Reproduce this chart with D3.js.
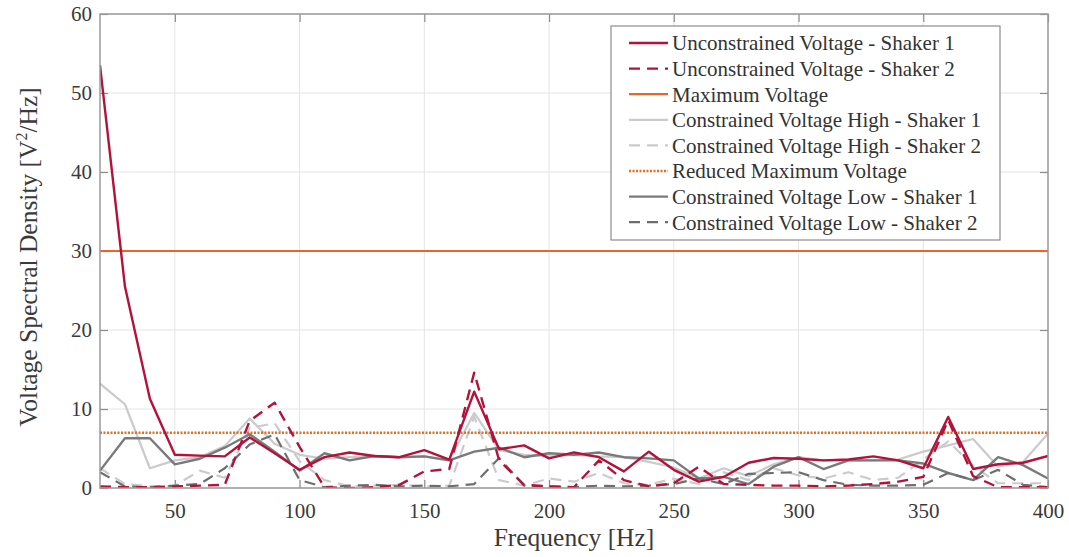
<!DOCTYPE html>
<html>
<head>
<meta charset="utf-8">
<script src="https://cdn.jsdelivr.net/npm/d3@7"></script>
<style>
  html, body { margin: 0; padding: 0; background: #fff; }
  svg { display: block; }
  text { font-family: "Liberation Serif", "DejaVu Serif", serif; }
</style>
</head>
<body>
<svg id="chart" width="1069" height="557"></svg>
<script>
// Frequency bins [Hz]
const freq = [20, 30, 40, 50, 60, 70, 80, 90, 100, 110, 120, 130, 140, 150, 160, 170, 180, 190, 200,
  210, 220, 230, 240, 250, 260, 270, 280, 290, 300, 310, 320, 330, 340, 350, 360, 370, 380, 390, 400];

// Voltage spectral density [V^2/Hz]
const unconstrainedS1 = [53.5, 25.5, 11.3, 4.2, 4.1, 4.0, 6.4, 4.4, 2.3, 3.9, 4.5, 4.05, 3.9, 4.8, 3.6, 12.2, 4.9, 5.4, 3.75,
  4.5, 3.9, 2.1, 4.6, 2.3, 0.8, 1.4, 3.2, 3.8, 3.7, 3.5, 3.6, 4.0, 3.5, 2.5, 9.0, 2.4, 3.0, 3.2, 4.05];
const unconstrainedS2 = [0.2, 0.1, 0.1, 0.2, 0.3, 0.4, 8.5, 10.8, 5.2, 0.1, 0.0, 0.1, 0.4, 2.1, 2.4, 14.6, 3.5, 0.4, 0.2,
  0.1, 3.5, 1.0, 0.2, 0.6, 2.7, 0.5, 0.4, 0.3, 0.3, 0.2, 0.3, 0.5, 0.8, 1.4, 8.6, 1.5, 0.1, 0.1, 0.1];
const highS1 = [13.2, 10.6, 2.5, 3.5, 3.9, 5.3, 8.8, 5.6, 4.2, 3.7, 3.9, 4.0, 3.9, 4.0, 3.5, 9.5, 4.8, 4.2, 4.0,
  4.2, 4.0, 3.9, 3.3, 2.6, 1.2, 2.5, 1.5, 3.0, 3.9, 3.5, 3.5, 3.5, 3.6, 4.6, 5.4, 6.2, 2.7, 3.3, 6.9];
const highS2 = [2.5, 0.5, 0.2, 0.3, 2.2, 1.3, 7.6, 8.2, 3.4, 1.0, 0.2, 0.3, 0.4, 0.2, 0.3, 9.0, 1.0, 0.3, 1.2,
  0.8, 1.9, 0.6, 0.4, 1.2, 0.5, 2.0, 1.0, 2.5, 1.6, 1.2, 2.0, 1.0, 1.3, 3.6, 5.9, 2.8, 0.6, 0.6, 0.6];
const lowS1 = [2.2, 6.3, 6.3, 3.0, 3.7, 5.1, 6.8, 4.6, 2.2, 4.4, 3.5, 4.05, 3.9, 4.0, 3.5, 4.6, 5.1, 3.9, 4.4,
  4.2, 4.5, 3.9, 3.75, 3.5, 1.2, 1.4, 0.5, 2.7, 3.9, 2.4, 3.5, 3.5, 3.5, 3.1, 1.9, 1.0, 3.9, 2.9, 1.2];
const lowS2 = [2.0, 0.2, 0.1, 0.3, 0.5, 2.5, 5.5, 6.8, 1.0, 0.1, 0.3, 0.4, 0.2, 0.3, 0.2, 0.5, 3.8, 0.3, 0.2,
  0.1, 0.3, 0.2, 0.3, 0.5, 1.2, 0.5, 1.8, 1.9, 2.0, 1.0, 0.4, 0.3, 0.3, 0.4, 1.9, 1.0, 2.3, 0.4, 0.1];

// Voltage limits
const maxVoltage = 30;
const reducedMaxVoltage = 7;

// Axis ticks
const xTicks = [50, 100, 150, 200, 250, 300, 350, 400];
const yTicks = [0, 10, 20, 30, 40, 50, 60];

const legendLabels = [
  "Unconstrained Voltage - Shaker 1",
  "Unconstrained Voltage - Shaker 2",
  "Maximum Voltage",
  "Constrained Voltage High - Shaker 1",
  "Constrained Voltage High - Shaker 2",
  "Reduced Maximum Voltage",
  "Constrained Voltage Low - Shaker 1",
  "Constrained Voltage Low - Shaker 2"
];

const RED = "#b3123a", ORANGE = "#e9652b", DOT_ORANGE = "#ee6a1c";
const LIGHT = "#cbcbcb", DARK = "#7a7a7a", DARK2 = "#6e6e6e";

const series = [
  { label: legendLabels[0], values: unconstrainedS1, color: RED, dash: null, width: 2.4 },
  { label: legendLabels[1], values: unconstrainedS2, color: RED, dash: "11,7", width: 2.4 },
  { label: legendLabels[2], level: maxVoltage, color: ORANGE, dash: null, width: 2.2 },
  { label: legendLabels[3], values: highS1, color: LIGHT, dash: null, width: 2.2 },
  { label: legendLabels[4], values: highS2, color: LIGHT, dash: "11,7", width: 2.2 },
  { label: legendLabels[5], level: reducedMaxVoltage, color: DOT_ORANGE, dash: "2,1.5", width: 2.4 },
  { label: legendLabels[6], values: lowS1, color: DARK, dash: null, width: 2.4 },
  { label: legendLabels[7], values: lowS2, color: DARK2, dash: "11,7", width: 2.2 }
];

const svg = d3.select("#chart");
const margin = { left: 100, top: 14, right: 21, bottom: 69 };
const W = 1069 - margin.left - margin.right;
const H = 557 - margin.top - margin.bottom;

const x = d3.scaleLinear().domain([20, 400]).range([0, W]);
const y = d3.scaleLinear().domain([0, 60]).range([H, 0]);

const g = svg.append("g").attr("transform", `translate(${margin.left},${margin.top})`);

// grid
g.append("g").selectAll("line").data(xTicks).join("line")
  .attr("x1", d => x(d)).attr("x2", d => x(d)).attr("y1", 0).attr("y2", H)
  .attr("stroke", "#e4e4e4").attr("stroke-width", 1);
g.append("g").selectAll("line").data(yTicks).join("line")
  .attr("x1", 0).attr("x2", W).attr("y1", d => y(d)).attr("y2", d => y(d))
  .attr("stroke", "#e4e4e4").attr("stroke-width", 1);

// axes (ticks pointing inward, mirrored on top and right)
const tickColor = "#8c8c8c";
const xAxis = g.append("g").attr("transform", `translate(0,${H})`)
  .call(d3.axisBottom(x).tickValues(xTicks).tickSizeInner(-8).tickSizeOuter(0).tickPadding(15));
const yAxis = g.append("g")
  .call(d3.axisLeft(y).tickValues(yTicks).tickSizeInner(-8).tickSizeOuter(0).tickPadding(8));
const xTop = g.append("g")
  .call(d3.axisTop(x).tickValues(xTicks).tickSizeInner(-8).tickSizeOuter(0).tickFormat(""));
const yRight = g.append("g").attr("transform", `translate(${W},0)`)
  .call(d3.axisRight(y).tickValues(yTicks).tickSizeInner(-8).tickSizeOuter(0).tickFormat(""));
[xAxis, yAxis, xTop, yRight].forEach(a => {
  a.select(".domain").remove();
  a.selectAll(".tick line").attr("stroke", tickColor).attr("stroke-width", 1.2);
  a.selectAll("text").attr("fill", "#3a3a3a").style("font-size", "21px")
    .style("font-family", "'Liberation Serif', serif");
});

// data lines
const clipId = "plot-clip";
g.append("clipPath").attr("id", clipId).append("rect").attr("width", W).attr("height", H);
const plot = g.append("g").attr("clip-path", `url(#${clipId})`);
const line = d3.line().x((d, i) => x(freq[i])).y(d => y(d));

const drawOrder = [3, 4, 6, 7, 2, 5, 1, 0];
drawOrder.forEach(k => {
  const s = series[k];
  const path = plot.append("path")
    .attr("fill", "none")
    .attr("stroke", s.color)
    .attr("stroke-width", s.width)
    .attr("stroke-linejoin", "round");
  if (s.values) path.attr("d", line(s.values));
  else path.attr("d", d3.line()([[x(20), y(s.level)], [x(400), y(s.level)]]));
  if (s.dash) path.attr("stroke-dasharray", s.dash);
});

// frame
g.append("rect").attr("width", W).attr("height", H)
  .attr("fill", "none").attr("stroke", "#9a9a9a").attr("stroke-width", 1.5);

// axis titles
svg.append("text")
  .attr("x", 574).attr("y", 546)
  .attr("text-anchor", "middle").attr("fill", "#3a3a3a").style("font-size", "25.5px")
  .text("Frequency [Hz]");
const yt = svg.append("text")
  .attr("transform", "translate(37,257) rotate(-90)")
  .attr("text-anchor", "middle").attr("fill", "#3a3a3a").style("font-size", "25.5px");
yt.append("tspan").text("Voltage Spectral Density [V");
yt.append("tspan").text("2").attr("dy", -10).style("font-size", "16px");
yt.append("tspan").text("/Hz]").attr("dy", 10);

// legend
const lg = svg.append("g").attr("transform", "translate(611,26)");
lg.append("rect").attr("width", 389).attr("height", 214)
  .attr("fill", "#fff").attr("stroke", "#8c8c8c").attr("stroke-width", 1.2);
const rows = lg.selectAll("g.row").data(series).join("g")
  .attr("class", "row")
  .attr("transform", (d, i) => `translate(0,${17 + i * 25.6})`);
rows.append("line")
  .attr("x1", 18).attr("x2", 57).attr("y1", 0).attr("y2", 0)
  .attr("stroke", d => d.color).attr("stroke-width", d => d.width)
  .attr("stroke-dasharray", d => d.dash);
rows.append("text")
  .attr("x", 61).attr("y", 0).attr("dy", "0.35em")
  .attr("fill", "#333").style("font-size", "21px")
  .text(d => d.label);
</script>
</body>
</html>
